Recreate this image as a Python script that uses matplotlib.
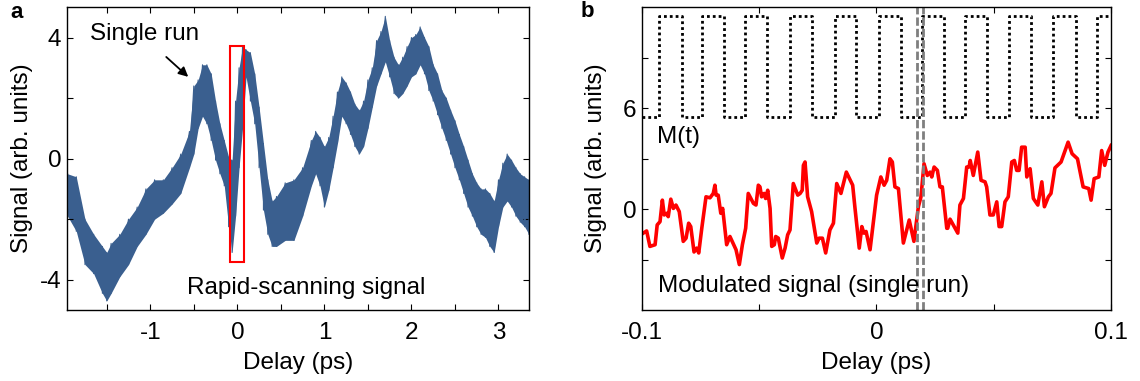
import matplotlib.pyplot as plt
from matplotlib.patches import Rectangle

# ---- panel a : rapid-scanning signal (envelope) ----
delay_a = [-1.95, -1.85, -1.75, -1.65, -1.55, -1.50, -1.45, -1.35, -1.25, -1.15,
           -1.05, -0.95, -0.85, -0.75, -0.65, -0.55, -0.50, -0.45, -0.40, -0.35,
           -0.30, -0.25, -0.20, -0.15, -0.10, -0.06, -0.02, 0.02, 0.06, 0.10,
           0.15, 0.20, 0.25, 0.30, 0.35, 0.40, 0.45, 0.55, 0.65, 0.75,
           0.85, 0.90, 0.95, 1.00, 1.05, 1.10, 1.15, 1.20, 1.25, 1.30,
           1.35, 1.40, 1.45, 1.50, 1.55, 1.60, 1.65, 1.70, 1.75, 1.80,
           1.85, 1.90, 1.95, 2.00, 2.05, 2.10, 2.15, 2.20, 2.25, 2.30,
           2.35, 2.40, 2.45, 2.50, 2.55, 2.60, 2.65, 2.70, 2.75, 2.80,
           2.85, 2.90, 2.95, 3.00, 3.05, 3.10, 3.15, 3.20, 3.25, 3.30, 3.35]
upper_a = [-0.5, -0.6, -2.0, -2.5, -2.9, -3.1, -2.8, -2.5, -2.0, -1.6,
           -1.0, -0.7, -0.7, -0.3, 0.15, 0.9, 2.4, 2.6, 3.1, 3.1,
           2.8, 1.9, 1.15, 0.6, 0.05, -0.05, 1.9, 3.0, 3.7, 3.6,
           3.5, 2.8, 1.7, 0.5, -0.7, -1.4, -1.25, -0.8, -0.7, -0.3,
           0.6, 0.9, 0.7, 0.4, 0.7, 1.4, 2.2, 2.7, 2.5, 2.2,
           1.8, 1.6, 1.9, 2.6, 3.0, 3.9, 4.2, 4.7, 3.9, 3.35,
           3.1, 3.35, 3.7, 4.0, 4.1, 4.35, 4.0, 3.7, 3.1, 2.8,
           2.25, 2.0, 1.6, 1.25, 0.8, 0.4, -0.05, -0.5, -0.8, -1.0,
           -1.0, -1.15, -1.4, -0.7, -0.15, 0.15, -0.05, -0.3, -0.5, -0.6, -0.7]
lower_a = [-1.9, -2.4, -3.5, -3.8, -4.45, -4.7, -4.45, -3.9, -3.5, -2.9,
           -2.5, -2.0, -1.8, -1.5, -1.15, -0.3, 0.15, 1.0, 1.4, 1.15,
           0.6, -0.05, -0.5, -0.9, -2.25, -3.1, -1.9, -0.3, 1.0, 2.7,
           1.9, 1.15, -0.3, -1.7, -2.5, -2.9, -2.9, -2.7, -2.7, -1.9,
           -0.9, -0.5, -0.9, -1.6, -1.05, -0.3, 0.5, 1.4, 1.15, 0.8,
           0.4, 0.15, 0.4, 1.0, 1.7, 2.4, 2.8, 3.2, 2.7, 2.15,
           2.0, 2.15, 2.4, 2.7, 2.8, 3.1, 2.8, 2.25, 1.9, 1.45,
           1.0, 0.6, 0.15, -0.3, -0.7, -1.15, -1.6, -1.9, -2.25, -2.5,
           -2.6, -2.9, -3.1, -2.25, -1.6, -1.4, -1.6, -1.9, -2.1, -2.25, -2.5]

# ---- panel b : modulation M(t) and modulated signal ----
mod_t = [-0.1, -0.0926, -0.0828, -0.0743, -0.0651, -0.0558, -0.0466, -0.0368,
         -0.0274, -0.0178, -0.0087, 0.0011, 0.0103, 0.0193, 0.0288, 0.0378,
         0.0470, 0.0565, 0.0659, 0.0753, 0.0850, 0.0940, 0.1]
mod_v = [5.5, 11.5, 5.5, 11.5, 5.5, 11.5, 5.5, 11.5, 5.5, 11.5, 5.5, 11.5,
         5.5, 11.5, 5.5, 11.5, 5.5, 11.5, 5.5, 11.5, 5.5, 11.5, 11.5]

delay_b = [-0.1000, -0.0979, -0.0965, -0.0943, -0.0934, -0.0922, -0.0912, -0.0904,
           -0.0893, -0.0887, -0.0876, -0.0865, -0.0854, -0.0840, -0.0823, -0.0811,
           -0.0800, -0.0791, -0.0777, -0.0766, -0.0757, -0.0744, -0.0726, -0.0709,
           -0.0695, -0.0688, -0.0683, -0.0674, -0.0663, -0.0655, -0.0638, -0.0624,
           -0.0598, -0.0584, -0.0571, -0.0557, -0.0546, -0.0524, -0.0513, -0.0503,
           -0.0496, -0.0489, -0.0478, -0.0472, -0.0463, -0.0453, -0.0446, -0.0435,
           -0.0429, -0.0418, -0.0401, -0.0389, -0.0378, -0.0368, -0.0354, -0.0335,
           -0.0325, -0.0316, -0.0311, -0.0304, -0.0293, -0.0276, -0.0254, -0.0244,
           -0.0230, -0.0216, -0.0198, -0.0183, -0.0169, -0.0151, -0.0128, -0.0101,
           -0.0091, -0.0073, -0.0062, -0.0053, -0.0044, -0.0027, 0.0001, 0.0019,
           0.0033, 0.0044, 0.0058, 0.0068, 0.0079, 0.0094, 0.0115, 0.0140,
           0.0160, 0.0179, 0.0190, 0.0203, 0.0217, 0.0229, 0.0236, 0.0246,
           0.0260, 0.0271, 0.0281, 0.0300, 0.0304, 0.0314, 0.0347, 0.0356,
           0.0371, 0.0385, 0.0395, 0.0400, 0.0413, 0.0432, 0.0446, 0.0463,
           0.0470, 0.0484, 0.0498, 0.0513, 0.0523, 0.0534, 0.0548, 0.0562,
           0.0577, 0.0588, 0.0598, 0.0608, 0.0619, 0.0634, 0.0641, 0.0655,
           0.0669, 0.0688, 0.0705, 0.0716, 0.0733, 0.0744, 0.0761, 0.0787,
           0.0817, 0.0834, 0.0857, 0.0881, 0.0905, 0.0915, 0.0928, 0.0948,
           0.0960, 0.0973, 0.0987, 0.1000]
signal_b = [-1.49, -1.30, -2.22, -2.12, -0.94, -0.75, 0.53, -0.35,
            -0.25, -0.45, 0.59, 0.04, 0.24, -0.15, -1.92, -1.73,
            -0.84, -1.04, -2.55, -2.32, -2.61, -1.14, 0.73, 0.67,
            0.93, 1.42, 0.83, 0.83, -0.25, 0.04, -2.12, -1.63,
            -2.42, -3.30, -2.12, -1.14, 0.93, 0.34, 0.24, 1.42,
            1.32, 0.73, 0.93, 0.63, 1.12, 0.04, -2.22, -2.12,
            -1.63, -1.73, -2.91, -2.32, -1.53, -1.24, 1.52, 0.83,
            0.93, 1.12, 2.60, 2.80, 0.73, -0.15, -2.02, -1.73,
            -1.73, -2.61, -1.24, -0.84, 1.52, 0.93, 2.20, 1.42,
            0.04, -2.32, -1.04, -1.43, -1.33, -2.42, 0.83, 1.91,
            1.42, 1.71, 2.99, 2.80, 1.32, 1.22, -2.02, -0.65,
            -1.92, 0.14, 0.73, 2.70, 2.00, 2.20, 1.91, 2.50,
            2.30, 1.32, 1.32, -1.14, -1.14, -0.60, -1.43, 0.24,
            0.63, 2.50, 2.50, 2.89, 2.00, 3.39, 1.71, 1.62,
            1.32, -0.35, -0.35, 0.43, -1.04, -1.04, 0.43, 0.73,
            2.80, 2.89, 2.30, 2.30, 3.68, 3.68, 1.91, 2.40,
            0.63, 0.24, 1.62, 0.14, 0.73, 0.93, 2.45, 2.80,
            3.98, 3.29, 2.99, 1.32, 1.22, 0.53, 1.81, 1.91,
            3.48, 2.60, 3.39, 3.78]
window_t = [0.0175, 0.0200]

plt.rcParams.update({
    "font.family": ["Liberation Sans", "DejaVu Sans"],
    "font.size": 17.5,
    "axes.linewidth": 1.0,
    "xtick.direction": "in",
    "ytick.direction": "in",
    "xtick.top": True,
    "ytick.right": True,
    "xtick.major.size": 4,
    "ytick.major.size": 4,
    "xtick.major.width": 0.8,
    "ytick.major.width": 0.8,
    "xtick.major.pad": 9,
    "ytick.major.pad": 4,
    "axes.unicode_minus": False,
})

fig = plt.figure(figsize=(11.4, 3.81), dpi=100)
ax_a = fig.add_axes([0.0585, 0.1864, 0.4055, 0.7945])
ax_b = fig.add_axes([0.5629, 0.1864, 0.4117, 0.7945])

blue = "#3a5f8f"

# band between the upper and lower edges of the noisy trace
zx, zy = [], []
for i, t in enumerate(delay_a):
    zx += [t, t]
    zy += [upper_a[i], lower_a[i]]
ax_a.fill_between(delay_a, lower_a, upper_a, color=blue, lw=0)
ax_a.plot(zx, zy, color=blue, lw=0.8)
ax_a.add_patch(Rectangle((-0.082, -3.41), 0.164, 7.12, fill=False,
                         edgecolor="red", lw=1.5, zorder=3))

ax_a.set_xlim(-1.96, 3.35)
ax_a.set_ylim(-5, 5)
ax_a.set_xticks([-1.5, -1, -0.5, 0, 0.5, 1, 1.5, 2, 2.5, 3])
ax_a.set_xticklabels(["", "-1", "", "0", "", "1", "", "2", "", "3"])
ax_a.set_yticks([-4, -2, 0, 2, 4])
ax_a.set_yticklabels(["-4", "", "0", "", "4"])
ax_a.set_xlabel("Delay (ps)")
ax_a.set_ylabel("Signal (arb. units)")
ax_a.xaxis.set_label_coords(0.5, -0.14)
ax_a.yaxis.set_label_coords(-0.073, 0.5)
ax_a.text(-1.69, 4.12, "Single run", va="center", ha="left")
ax_a.annotate("", xy=(-0.54, 2.64), xytext=(-0.84, 3.42),
              arrowprops=dict(arrowstyle="-|>", color="black", lw=1.3,
                              mutation_scale=14))
ax_a.text(0.79, -4.29, "Rapid-scanning signal", ha="center", va="center")

# panel b
ax_b.step(mod_t, mod_v, where="post", color="black", lw=2.0,
          linestyle=(0, (1, 1.1)))
ax_b.plot(delay_b, signal_b, color="red", lw=2.6)
for t in window_t:
    ax_b.axvline(t, color="#7f7f7f", lw=2.0, linestyle=(0, (3, 1.1)))
ax_b.set_xlim(-0.1, 0.1)
ax_b.set_ylim(-6, 12)
ax_b.set_xticks([-0.1, -0.05, 0, 0.05, 0.1])
ax_b.set_xticklabels(["-0.1", "", "0", "", "0.1"])
ax_b.set_yticks([-3, 0, 3, 6, 9])
ax_b.set_yticklabels(["", "0", "", "6", ""])
ax_b.set_xlabel("Delay (ps)")
ax_b.set_ylabel("Signal (arb. units)")
ax_b.xaxis.set_label_coords(0.5, -0.14)
ax_b.yaxis.set_label_coords(-0.074, 0.5)
ax_b.text(-0.0935, 4.3, "M(t)", ha="left", va="center")
ax_b.text(-0.093, -4.6, "Modulated signal (single run)", ha="left", va="center")

fig.text(0.009, 0.953, "a", fontsize=16, fontweight="bold")
fig.text(0.509, 0.955, "b", fontsize=16, fontweight="bold")

fig.savefig("out.png", dpi=100)
